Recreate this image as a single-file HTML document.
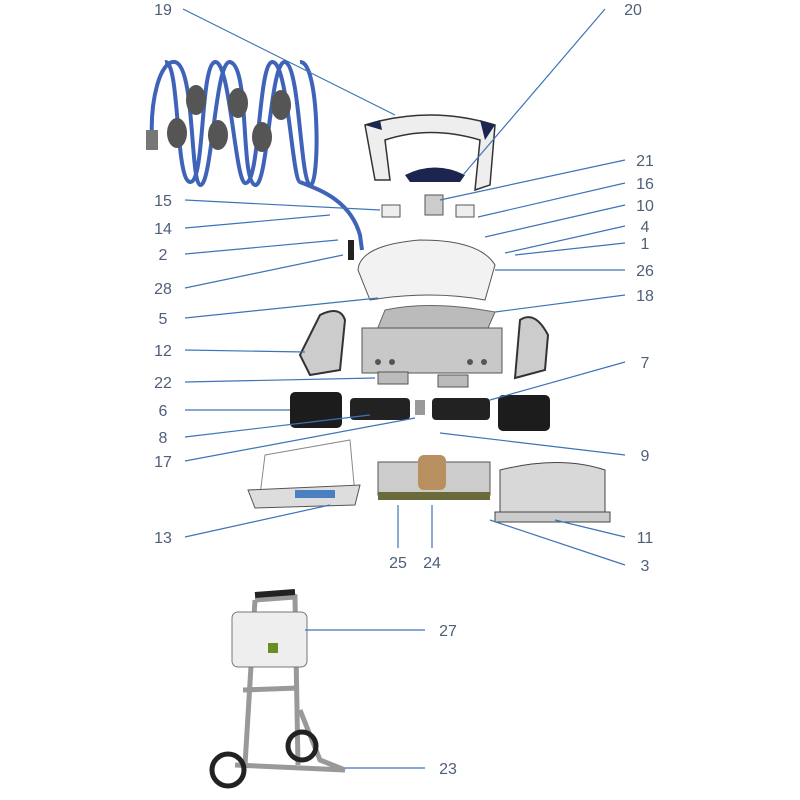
<!DOCTYPE html>
<html><head><meta charset="utf-8"><style>
html,body{margin:0;padding:0;background:#fff}
svg{display:block}
text{font-family:"Liberation Sans",sans-serif;font-size:16px;fill:#4f5f78}
</style></head><body>
<svg width="800" height="800" viewBox="0 0 800 800" xmlns="http://www.w3.org/2000/svg">
<!-- hose -->
<g fill="none" stroke="#3f63b8" stroke-width="4">
<path d="M152,140 C150,100 160,60 175,62 C195,66 190,180 200,185 C212,188 215,60 230,62 C250,66 240,180 255,185 C268,188 270,60 285,62 C300,66 300,180 310,185 C320,188 320,60 300,62"/>
<path d="M165,62 C180,60 175,180 190,182 C205,184 200,65 215,62 C230,60 235,180 245,183 C260,186 258,65 272,62 C288,60 292,180 300,182"/>
<path d="M300,182 C320,190 350,200 360,235 L362,250"/>
</g>
<rect x="146" y="130" width="12" height="20" fill="#777"/>
<g fill="#555"><ellipse cx="177" cy="133" rx="10" ry="15"/><ellipse cx="196" cy="100" rx="10" ry="15"/><ellipse cx="218" cy="135" rx="10" ry="15"/><ellipse cx="238" cy="103" rx="10" ry="15"/><ellipse cx="262" cy="137" rx="10" ry="15"/><ellipse cx="281" cy="105" rx="10" ry="15"/></g>
<!-- handle 19 / 20 -->
<path d="M365,125 Q430,105 495,125 L490,185 L475,190 L480,140 Q430,125 385,140 L390,180 L375,180 Z" fill="#eee" stroke="#333" stroke-width="1.5"/>
<path d="M405,175 Q435,160 465,175 L460,182 L410,182 Z" fill="#1c2450"/>
<path d="M365,125 L380,120 L382,130 Z M495,125 L480,120 L485,140 Z" fill="#1c2450"/>
<!-- small parts -->
<rect x="425" y="195" width="18" height="20" fill="#ccc" stroke="#555"/>
<rect x="382" y="205" width="18" height="12" fill="#eee" stroke="#555"/>
<rect x="456" y="205" width="18" height="12" fill="#eee" stroke="#555"/>
<rect x="348" y="240" width="6" height="20" fill="#222"/>
<!-- body 26 -->
<path d="M358,270 Q360,245 420,240 Q480,240 495,265 L485,300 Q430,290 370,300 Z" fill="#f2f2f2" stroke="#555"/>
<!-- 18 -->
<path d="M385,310 Q430,300 495,312 L485,335 Q430,325 375,335 Z" fill="#bbb" stroke="#666"/>
<!-- 12 side panels -->
<path d="M300,355 L320,315 Q340,305 345,320 L340,370 L310,375 Z" fill="#ccc" stroke="#333" stroke-width="2"/>
<path d="M520,320 Q535,310 548,335 L545,370 L515,378 Z" fill="#ccc" stroke="#333" stroke-width="2"/>
<!-- chassis -->
<rect x="362" y="328" width="140" height="45" fill="#c8c8c8" stroke="#555"/>
<g fill="#555"><circle cx="378" cy="362" r="3"/><circle cx="392" cy="362" r="3"/><circle cx="470" cy="362" r="3"/><circle cx="484" cy="362" r="3"/></g>
<rect x="378" y="372" width="30" height="12" fill="#bbb" stroke="#555"/><rect x="438" y="375" width="30" height="12" fill="#bbb" stroke="#555"/>
<!-- rollers -->
<rect x="290" y="392" width="52" height="36" rx="5" fill="#1c1c1c"/>
<rect x="350" y="398" width="60" height="22" rx="4" fill="#222"/>
<rect x="432" y="398" width="58" height="22" rx="4" fill="#222"/>
<rect x="498" y="395" width="52" height="36" rx="5" fill="#1c1c1c"/>
<rect x="415" y="400" width="10" height="15" fill="#999"/>
<!-- 13 -->
<path d="M265,455 L350,440 L355,495 L260,495 Z" fill="none" stroke="#888"/>
<path d="M248,490 L360,485 L355,505 L255,508 Z" fill="#ddd" stroke="#555"/>
<rect x="295" y="490" width="40" height="8" fill="#4a7fc0"/>
<!-- base -->
<path d="M378,462 L490,462 L490,495 L378,495 Z" fill="#ccc" stroke="#555"/>
<rect x="418" y="455" width="28" height="35" rx="6" fill="#b89060"/>
<rect x="378" y="492" width="112" height="8" fill="#6a6a3a"/>
<!-- 11 -->
<path d="M500,470 Q560,455 605,470 L605,515 L500,515 Z" fill="#d8d8d8" stroke="#444"/>
<rect x="495" y="512" width="115" height="10" fill="#ccc" stroke="#444"/>
<!-- cart 27/23 -->
<g fill="none" stroke="#999" stroke-width="5">
<path d="M255,600 L295,597 L298,765 M255,600 L245,765"/>
<path d="M235,765 L345,770"/>
<path d="M243,690 L298,688"/>
<path d="M300,710 L320,760 L345,770"/>
</g>
<path d="M255,595 L295,592" stroke="#222" stroke-width="6"/>
<rect x="232" y="612" width="75" height="55" rx="6" fill="#eee" stroke="#777"/>
<rect x="268" y="643" width="10" height="10" fill="#6b8e23"/>
<circle cx="228" cy="770" r="16" fill="none" stroke="#222" stroke-width="5"/>
<circle cx="302" cy="746" r="14" fill="none" stroke="#222" stroke-width="5"/>
<!-- leader lines -->
<g stroke="#3d74b8" stroke-width="1.2" fill="none">
<path d="M183,9 L395,115"/><path d="M605,9 L463,175"/>
<path d="M625,160 L440,200"/><path d="M625,183 L478,217"/><path d="M625,205 L485,237"/>
<path d="M625,226 L505,253"/><path d="M625,243 L515,255"/><path d="M625,270 L495,270"/>
<path d="M625,295 L495,312"/><path d="M625,362 L490,400"/><path d="M625,455 L440,433"/>
<path d="M625,537 L555,520"/><path d="M625,565 L490,520"/>
<path d="M185,200 L380,210"/><path d="M185,228 L330,215"/><path d="M185,254 L338,240"/>
<path d="M185,288 L343,255"/><path d="M185,318 L378,298"/><path d="M185,350 L305,352"/>
<path d="M185,382 L375,378"/><path d="M185,410 L290,410"/><path d="M185,437 L370,415"/>
<path d="M185,461 L415,418"/><path d="M185,537 L330,505"/>
<path d="M398,548 L398,505"/><path d="M432,548 L432,505"/>
<path d="M425,630 L305,630"/><path d="M425,768 L345,768"/>
</g>
<g text-anchor="middle">
<text x="163" y="15">19</text><text x="633" y="15">20</text>
<text x="645" y="166">21</text><text x="645" y="189">16</text><text x="645" y="211">10</text>
<text x="645" y="232">4</text><text x="645" y="249">1</text><text x="645" y="276">26</text>
<text x="645" y="301">18</text><text x="645" y="368">7</text><text x="645" y="461">9</text>
<text x="645" y="543">11</text><text x="645" y="571">3</text>
<text x="163" y="206">15</text><text x="163" y="234">14</text><text x="163" y="260">2</text>
<text x="163" y="294">28</text><text x="163" y="324">5</text><text x="163" y="356">12</text>
<text x="163" y="388">22</text><text x="163" y="416">6</text><text x="163" y="443">8</text>
<text x="163" y="467">17</text><text x="163" y="543">13</text>
<text x="398" y="568">25</text><text x="432" y="568">24</text>
<text x="448" y="636">27</text><text x="448" y="774">23</text>
</g>
</svg>
</body></html>
